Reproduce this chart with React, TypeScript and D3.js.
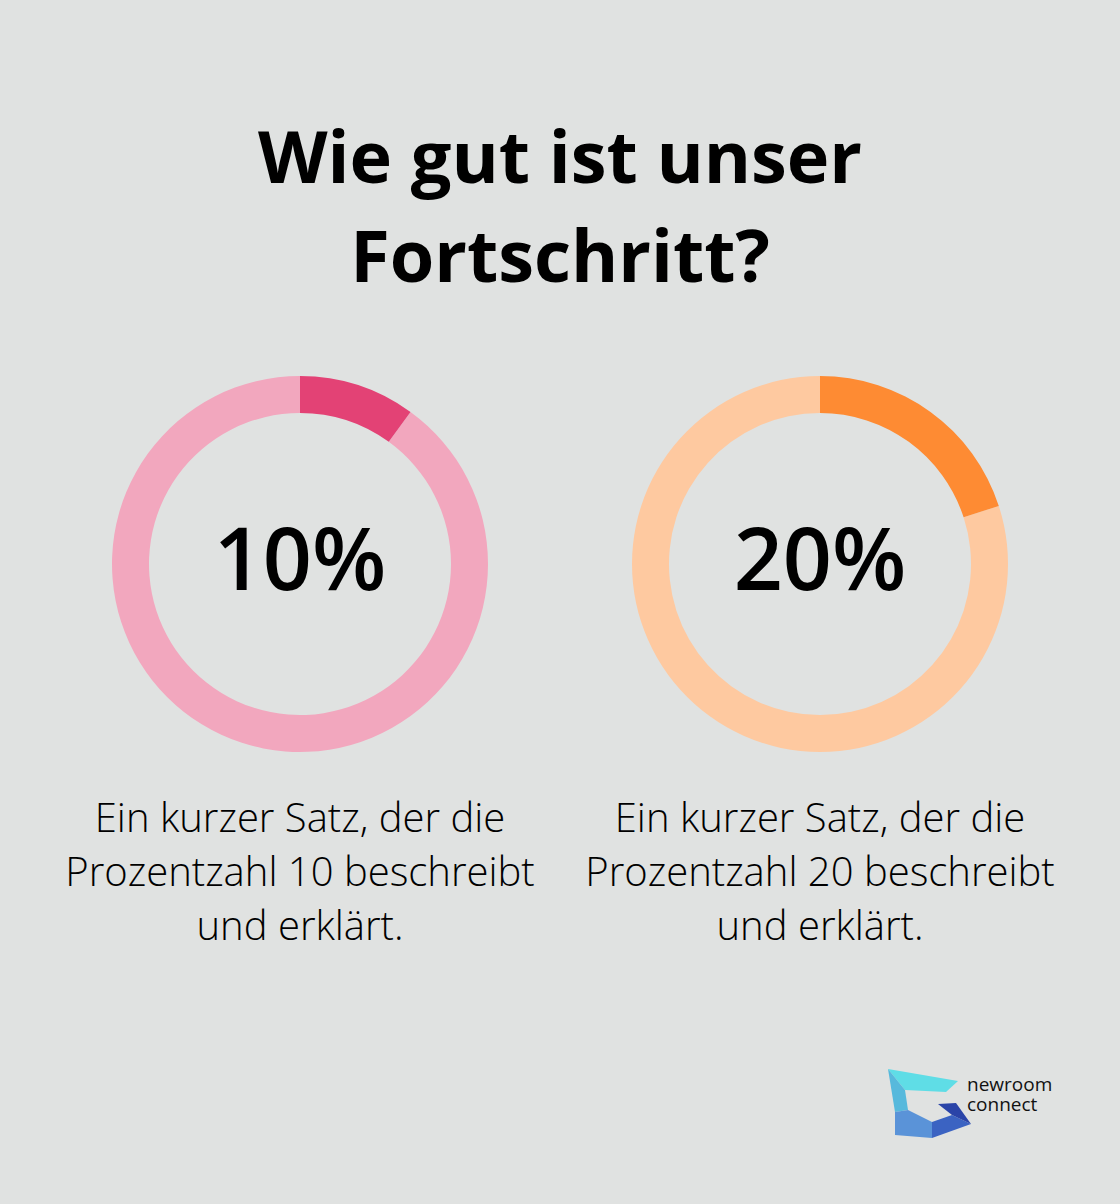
import React from "react";
import * as d3 from "d3";

const TITLE_LINES = ["Wie gut ist unser", "Fortschritt?"];
const PERCENTS = [10, 20];
const LABELS = ["10%", "20%"];
const DESCRIPTIONS = [
  ["Ein kurzer Satz, der die", "Prozentzahl 10 beschreibt", "und erklärt."],
  ["Ein kurzer Satz, der die", "Prozentzahl 20 beschreibt", "und erklärt."],
];
const LOGO_LINES = ["newroom", "connect"];
const FG_COLORS = ["#e34275", "#fe8b33"];
const BG_COLORS = ["#f2a7be", "#fec9a0"];

const W = 1120;
const H = 1204;
const FONT = "'Open Sans', sans-serif";

export default function App() {
  const x = d3.scaleBand<number>().domain([0, 1]).range([40, 1080]).paddingInner(0);
  const rOuter = 188;
  const rInner = 151;
  const cy = 564;
  const arc = d3.arc<any>().innerRadius(rInner).outerRadius(rOuter);
  const pie = d3.pie<number>().sort(null).value((d) => d);

  return (
    <svg width={W} height={H} style={{ position: "absolute", left: 0, top: 0, display: "block" }}>
      <rect width={W} height={H} fill="#e0e2e1" />
      {TITLE_LINES.map((t, i) => (
        <text key={i} x={W / 2} y={183 + i * 99} textAnchor="middle" fontFamily={FONT} fontWeight={700} fontSize={72} fill="#000">
          {t}
        </text>
      ))}
      {PERCENTS.map((p, i) => {
        const cx = (x(i) as number) + x.bandwidth() / 2;
        const arcs = pie([p, 100 - p]);
        return (
          <g key={i}>
            <g transform={`translate(${cx},${cy})`}>
              <path d={arc(arcs[1]) as string} fill={BG_COLORS[i]} />
              <path d={arc(arcs[0]) as string} fill={FG_COLORS[i]} />
              <text x={0} y={26} textAnchor="middle" fontFamily={FONT} fontWeight={600} fontSize={86} fill="#000">
                {LABELS[i]}
              </text>
            </g>
            {DESCRIPTIONS[i].map((line, j) => (
              <text key={j} x={cx} y={832 + j * 54} textAnchor="middle" fontFamily={FONT} fontWeight={300} fontSize={40} fill="#000">
                {line}
              </text>
            ))}
          </g>
        );
      })}
      <g>
        <polygon points="888,1069 958,1081 946,1092 905,1090" fill="#5fdde6" />
        <polygon points="888,1069 905,1090 908,1110 895,1112" fill="#57b9dc" />
        <polygon points="895,1112 908,1110 932,1122 932,1138 895,1135" fill="#5a93d8" />
        <polygon points="932,1122 952,1115 971,1124 932,1138" fill="#3b63c2" />
        <polygon points="938,1104 956,1103 971,1124 952,1115" fill="#2a44a8" />
        <text fontFamily={FONT} fontSize={19} fill="#111">
          {LOGO_LINES.map((l, i) => (
            <tspan key={i} x={967} y={1091 + i * 20}>{l}</tspan>
          ))}
        </text>
      </g>
    </svg>
  );
}
